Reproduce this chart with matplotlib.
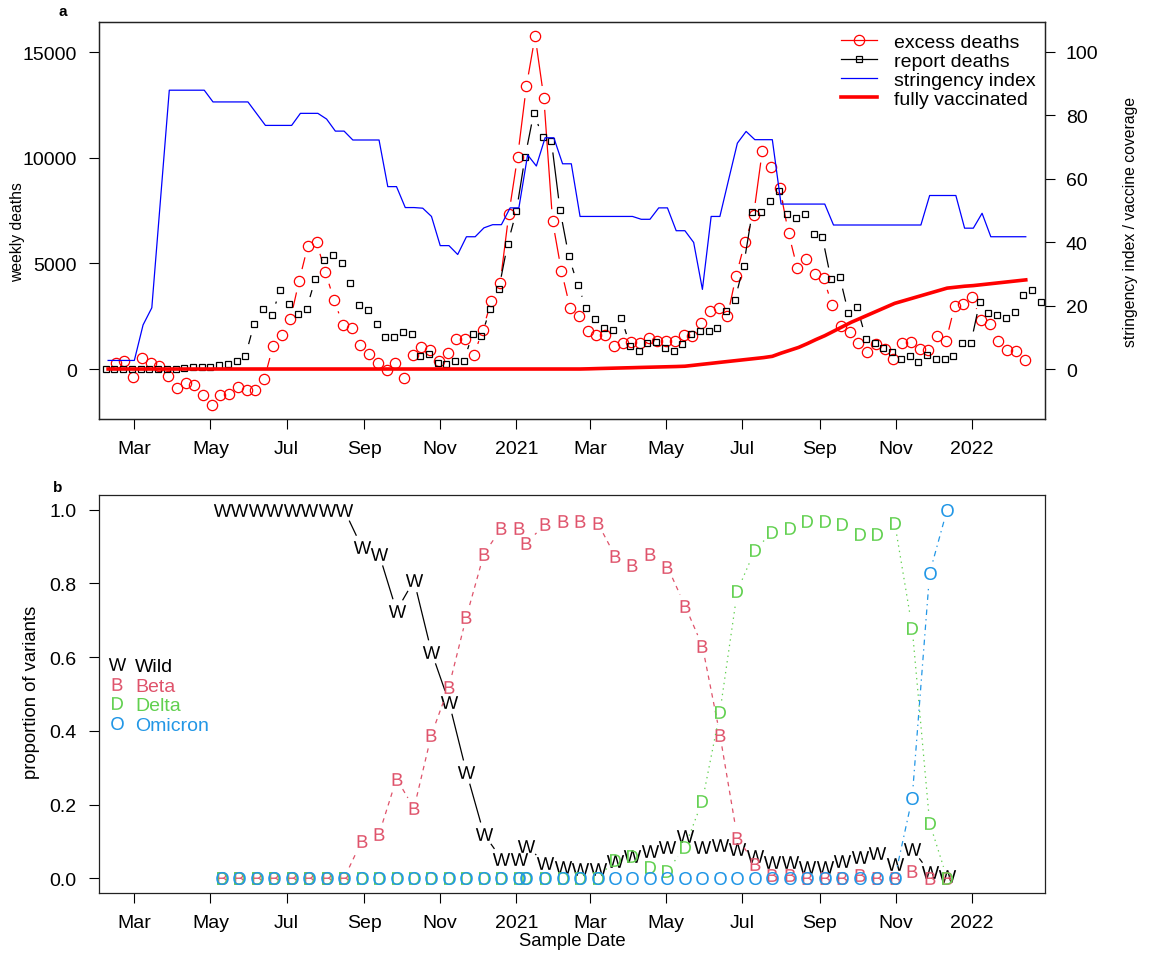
import numpy as np
import pandas as pd
import matplotlib
matplotlib.use("Agg")
import matplotlib.pyplot as plt
import matplotlib.dates as mdates
from matplotlib.collections import LineCollection
from matplotlib.lines import Line2D
from matplotlib.textpath import TextPath
from matplotlib.font_manager import FontProperties
from matplotlib.path import Path

plt.rcParams['font.family'] = ['Liberation Sans', 'DejaVu Sans']

# ---------------- data: panel a ----------------
report_dates = pd.date_range('2020-02-07', periods=108, freq='7D')
report_deaths = [0, 0, 0, 0, 0, 0, 0, 0, 0,
                 50, 110, 100, 110, 190, 250, 400, 630,
                 2150, 2830, 2560, 3730, 3060, 2620, 2860,
                 4280, 5180, 5380, 5000, 4060, 3050, 2810, 2120, 1530, 1530, 1750, 1640, 620,
                 730, 270, 240, 400, 400, 1670, 1560, 2840, 3810, 5920, 7470, 10060, 12140,
                 10970, 10820, 7520, 5340, 4000, 2890, 2380, 1940, 1860, 2430,
                 1110, 840, 1220, 1290, 1010, 870, 1200, 1670, 1800, 1800, 1940, 2750, 3270, 4900,
                 7440, 7440, 7970, 8450, 7360, 7140, 7360, 6410, 6270, 4250, 4360, 2640, 2920,
                 1440, 1220, 990, 820, 460, 620, 330, 660, 460, 460, 620, 1220, 1220,
                 3160, 2640, 2570, 2430, 2700, 3490, 3760, 3190]

excess_dates = pd.date_range('2020-02-15', periods=105, freq='7D')
excess_deaths = [284, 380, -380, 505, 300, 140, -350, -880, -660, -770, -1220, -1700, -1230,
                 -1180, -870, -1010, -980, -490,
                 1070, 1590, 2350, 4180, 5840, 6000, 4580, 3270, 2100, 1940, 1140, 690, 300,
                 -50, 300, -430, 650, 1030,
                 880, 390, 770, 1420, 1420, 650, 1860, 3210, 4070, 7360, 10060, 13390, 15760,
                 12840, 7000, 4660, 2910, 2490, 1820, 1630, 1630, 1090, 1230, 1290, 1230, 1450,
                 1330, 1330, 1330, 1590, 1580, 2190, 2760, 2910, 2490, 4420, 6000,
                 7300, 10340, 9580, 8560, 6430, 4770, 5190, 4480, 4290, 3030, 2040, 1770, 1250,
                 810, 1200, 950, 490, 1250, 1290, 950, 900, 1560, 1310, 2970, 3080, 3410, 2310,
                 2130, 1340, 900, 850, 440]

index_dates = pd.date_range('2020-02-09', periods=106, freq='7D')
stringency = [2.7, 2.7, 2.7, 2.7, 13.9, 19.3, 53.6,
              87.9, 87.9, 87.9, 87.9, 87.9, 84.2, 84.2, 84.2, 84.2, 84.2, 80.5,
              76.8, 76.8, 76.8, 76.8, 80.6, 80.6, 80.6, 78.8, 75.0, 75.0,
              72.2, 72.2, 72.2, 72.2, 57.5, 57.5, 50.9, 50.9, 50.7, 48.1, 38.9, 38.9, 36.1,
              41.7, 41.7, 44.5, 45.5, 45.5, 50.8, 50.8, 67.5, 64.0, 72.9, 72.9, 64.7, 64.7,
              48.1, 48.1, 48.1, 48.1, 48.1, 48.1, 48.1, 47.2, 47.2, 50.8, 50.8, 43.6, 43.6,
              39.9, 25.1, 48.1, 48.1, 59.7, 71.2, 74.9, 72.3, 72.3, 72.3,
              52.0, 52.0, 52.0, 52.0, 52.0, 52.0,
              45.4, 45.4, 45.4, 45.4, 45.4, 45.4, 45.4, 45.4, 45.4, 45.4, 45.4,
              54.7, 54.7, 54.7, 54.7, 44.4, 44.4, 49.1, 41.7, 41.7, 41.7, 41.7, 41.7]
vaccinated = [0.0] * 55 + [0.06, 0.14, 0.21, 0.28, 0.35, 0.42, 0.5, 0.57, 0.64, 0.71, 0.78,
                           0.88, 1.18, 1.49, 1.79, 2.1, 2.4, 2.7, 3.0, 3.3, 3.6, 4.0, 5.0, 5.9,
                           6.8, 8.0, 9.3, 10.5, 11.9, 13.3, 14.7, 15.9, 17.1, 18.3, 19.5, 20.7,
                           21.5, 22.3, 23.1, 23.9, 24.7, 25.5, 25.8, 26.1, 26.3, 26.6, 26.9,
                           27.2, 27.5, 27.8, 28.1]

# ---------------- data: panel b ----------------
sample_dates = (list(pd.date_range('2020-05-10', periods=18, freq='14D'))
                + [pd.Timestamp('2021-01-09')]
                + list(pd.date_range('2021-01-24', periods=24, freq='14D')))
wild = [1.0, 1.0, 1.0, 1.0, 1.0, 1.0, 1.0, 1.0, 0.90, 0.88, 0.726, 0.808, 0.614, 0.478,
        0.288, 0.12, 0.053, 0.053, 0.088, 0.041, 0.03, 0.025, 0.025, 0.048, 0.06, 0.075,
        0.084, 0.116, 0.086, 0.09, 0.08, 0.061, 0.043, 0.043, 0.03, 0.03, 0.048, 0.057,
        0.068, 0.039, 0.08, 0.016, 0.005]
beta = [0, 0, 0, 0, 0, 0, 0, 0, 0.10, 0.12, 0.27, 0.19, 0.39, 0.52, 0.71, 0.88, 0.95, 0.95,
        0.91, 0.96, 0.97, 0.97, 0.965, 0.875, 0.85, 0.88, 0.845, 0.74, 0.63, 0.39, 0.11, 0.04,
        0.01, 0.01, 0.0, 0.0, 0.0, 0.01, 0.0, 0.0, 0.02, 0.0, 0.0]
delta = [0] * 23 + [0.05, 0.06, 0.03, 0.02, 0.085, 0.21, 0.45, 0.78, 0.89, 0.94, 0.95, 0.97,
                    0.97, 0.96, 0.935, 0.935, 0.965, 0.68, 0.15, 0.0]
omicron = [0] * 40 + [0.217, 0.828, 1.0]

variant_names = ['Wild', 'Beta', 'Delta', 'Omicron']
variant_letters = ['W', 'B', 'D', 'O']
variant_colors = ['black', '#DF536B', '#61D04F', '#2297E6']

tick_dates = ['2020-03-01', '2020-05-01', '2020-07-01', '2020-09-01', '2020-11-01',
              '2021-01-01', '2021-03-01', '2021-05-01', '2021-07-01', '2021-09-01',
              '2021-11-01', '2022-01-01']
tick_labels = ['Mar', 'May', 'Jul', 'Sep', 'Nov', '2021', 'Mar', 'May', 'Jul', 'Sep',
               'Nov', '2022']

# ---------------- helpers ----------------
W_PX, H_PX, DPI = 1154, 954, 100
GAP = 12.0  # px gap around points (R type="b")


def gap_lines(ax, x, y, color, lw=0.9, ls='-', zorder=2):
    pts = ax.transData.transform(np.column_stack([x, y]))
    inv = ax.transData.inverted()
    segs = []
    for p0, p1 in zip(pts[:-1], pts[1:]):
        d = p1 - p0
        L = np.hypot(*d)
        if L > 2 * GAP + 0.5:
            u = d / L
            segs.append(inv.transform(np.array([p0 + u * GAP, p1 - u * GAP])))
    lc = LineCollection(segs, colors=color, linewidths=lw, linestyles=ls, zorder=zorder)
    ax.add_collection(lc)


def letter_marker(ch):
    fp = FontProperties(family='Liberation Sans')
    tp = TextPath((0, 0), ch, size=1, prop=fp)
    bb = tp.get_extents()
    v = tp.vertices - [(bb.x0 + bb.x1) / 2, (bb.y0 + bb.y1) / 2]
    v = np.vstack([v, [[-0.5, -0.5], [0.5, 0.5]]])
    c = np.concatenate([tp.codes, [Path.MOVETO, Path.MOVETO]])
    return Path(v, c)


def pix(x0, y0, x1, y1):
    return [x0 / W_PX, 1 - y1 / H_PX, (x1 - x0) / W_PX, (y1 - y0) / H_PX]


fig = plt.figure(figsize=(W_PX / DPI, H_PX / DPI), dpi=DPI)

d0 = mdates.date2num(pd.Timestamp('2020-03-01'))
xlim = (d0 - 28.3, d0 + 729.4)
tick_pos = mdates.date2num(pd.to_datetime(tick_dates))

TICK_FS = 14


def style_axes(ax):
    ax.set_xlim(*xlim)
    ax.set_xticks(tick_pos)
    ax.set_xticklabels(tick_labels)
    ax.tick_params(axis='x', direction='out', length=7, width=0.8, pad=8, labelsize=TICK_FS)
    ax.tick_params(axis='y', direction='out', length=7, width=0.8, pad=9, labelsize=TICK_FS)
    for s in ax.spines.values():
        s.set_linewidth(0.9)
        s.set_color('#222222')


# ---------------- panel a ----------------
ax1 = fig.add_axes(pix(99, 23, 1045, 420))
style_axes(ax1)
ax1.set_ylim(-2368, 16434)
ax1.set_yticks([0, 5000, 10000, 15000])
ax1.set_yticklabels(['0', '5000', '10000', '15000'])

ax2 = ax1.twinx()
ax2.set_ylim(-15.76, 109.4)
ax2.set_yticks([0, 20, 40, 60, 80, 100])
ax2.tick_params(axis='y', direction='out', length=7, width=0.8, pad=8, labelsize=TICK_FS)
for s in ax2.spines.values():
    s.set_linewidth(0.9)
    s.set_color('#222222')

ex_x = mdates.date2num(excess_dates)
rp_x = mdates.date2num(report_dates)
ix_x = mdates.date2num(index_dates)

gap_lines(ax1, ex_x, excess_deaths, 'red', lw=0.9)
ax1.plot(ex_x, excess_deaths, 'o', ms=7.4, mfc='none', mec='red', mew=0.9)
gap_lines(ax1, rp_x, report_deaths, 'black', lw=0.9)
ax1.plot(rp_x, report_deaths, 's', ms=5.0, mfc='none', mec='black', mew=0.9)

ax2.plot(ix_x, stringency, '-', color='blue', lw=0.9)
ax2.plot(ix_x, vaccinated, '-', color='red', lw=2.6)

handles = [Line2D([], [], color='red', lw=0.9, marker='o', ms=7.4, mfc='none', mew=0.9),
           Line2D([], [], color='black', lw=0.9, marker='s', ms=5.0, mfc='none', mew=0.9),
           Line2D([], [], color='blue', lw=0.9),
           Line2D([], [], color='red', lw=2.6)]
leg = ax2.legend(handles, ['excess deaths', 'report deaths', 'stringency index',
                           'fully vaccinated'],
                 loc='center left', bbox_to_anchor=((841 - 99) / 946, (420 - 71.5) / 397),
                 frameon=False, fontsize=14, handlelength=1.85, handletextpad=0.9,
                 labelspacing=0.08, borderpad=0, borderaxespad=0)

fig.text(18 / W_PX, 1 - 232 / H_PX, 'weekly deaths', rotation=90, ha='center',
         va='center', fontsize=11.3)
fig.text(1130 / W_PX, 1 - 222 / H_PX, 'stringency index / vaccine coverage', rotation=90,
         ha='center', va='center', fontsize=11.3)
fig.text(63 / W_PX, 1 - 12 / H_PX, 'a', fontweight='bold', ha='center', va='center',
         fontsize=11)

# ---------------- panel b ----------------
ax3 = fig.add_axes(pix(99, 496, 1045, 894))
style_axes(ax3)
ax3.set_ylim(-0.04, 1.04)
ax3.set_yticks([0, 0.2, 0.4, 0.6, 0.8, 1.0])
ax3.set_yticklabels(['0.0', '0.2', '0.4', '0.6', '0.8', '1.0'])

s_x = mdates.date2num(pd.to_datetime(sample_dates))
series = [wild, beta, delta, omicron]
styles = ['-', (0, (3.6, 3.6)), (0, (1.1, 3.3)), (0, (1.1, 3.3, 4.4, 3.3))]
LETTER_MS = 13.3
for vals, let, col, ls in zip(series, variant_letters, variant_colors, styles):
    gap_lines(ax3, s_x, vals, col, lw=0.9, ls=ls)
    ax3.plot(s_x, vals, linestyle='none', marker=letter_marker(let), ms=LETTER_MS,
             mfc=col, mec=col, mew=0)

vh = [Line2D([], [], linestyle='none', marker=letter_marker(l), ms=LETTER_MS, mfc=c, mec=c,
             mew=0) for l, c in zip(variant_letters, variant_colors)]
leg2 = ax3.legend(vh, variant_names, loc='center left',
                  bbox_to_anchor=((109 - 99) / 946, (894 - 696.5) / 398), frameon=False,
                  fontsize=14, handlelength=0.8, handletextpad=0.55, labelspacing=0.1,
                  borderpad=0, borderaxespad=0)
for t, c in zip(leg2.get_texts(), variant_colors):
    t.set_color(c)

fig.text(32 / W_PX, 1 - 692 / H_PX, 'proportion of variants', rotation=90, ha='center',
         va='center', fontsize=13.3)
fig.text(572 / W_PX, 1 - 942 / H_PX, 'Sample Date', ha='center', va='center', fontsize=13.3)
fig.text(58 / W_PX, 1 - 488 / H_PX, 'b', fontweight='bold', ha='center', va='center',
         fontsize=11)

fig.savefig('out.png', dpi=DPI)
